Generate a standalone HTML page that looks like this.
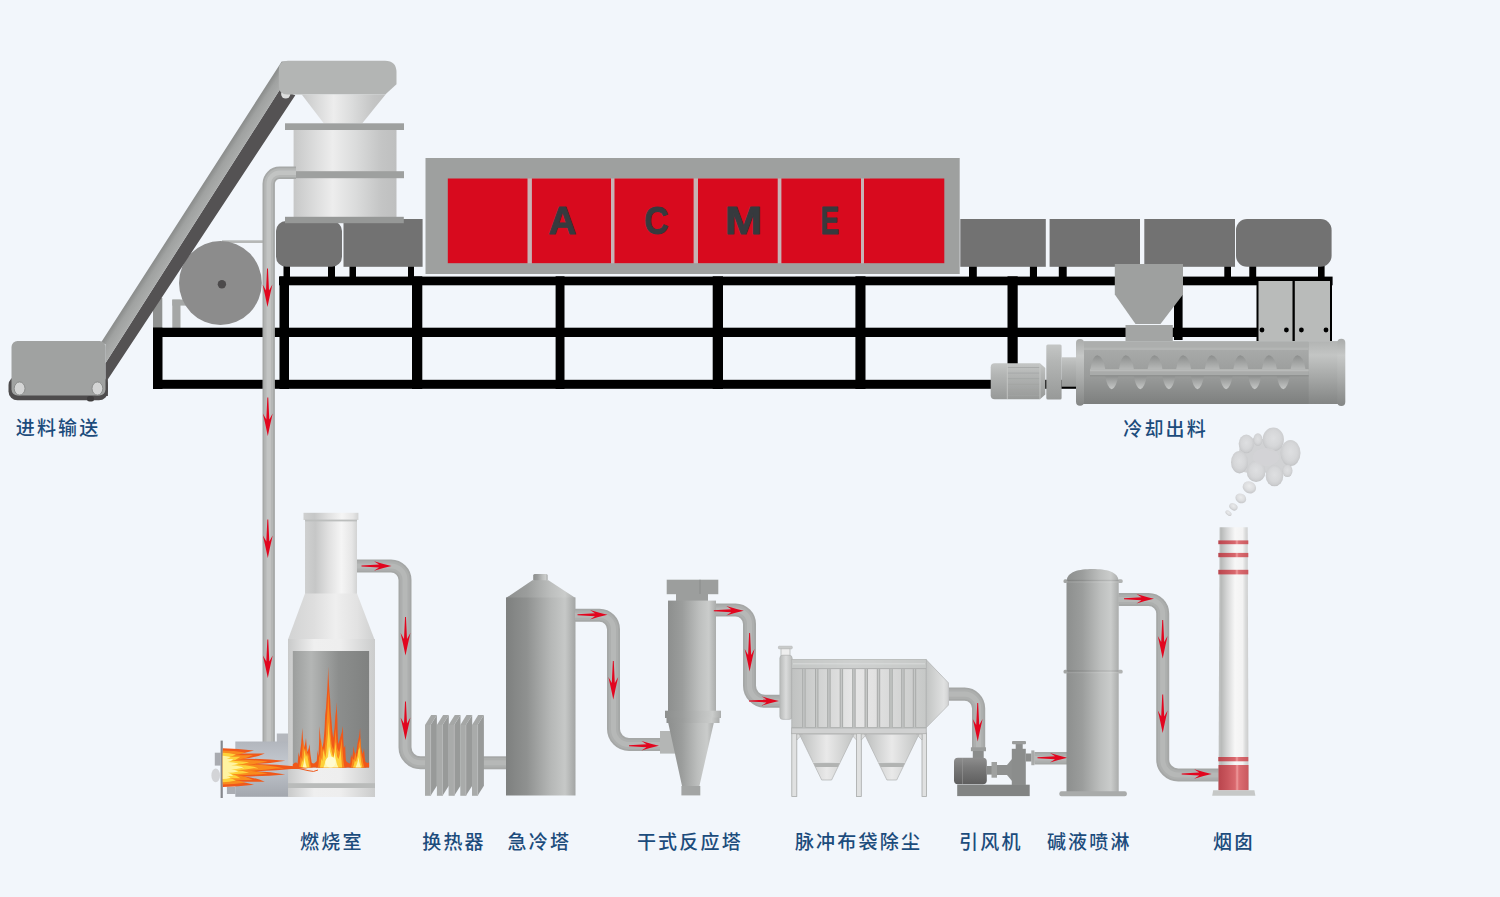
<!DOCTYPE html>
<html lang="zh-CN">
<head>
<meta charset="utf-8">
<title>ACME 工艺流程图</title>
<style>
html,body{margin:0;padding:0;}
body{width:1500px;height:897px;overflow:hidden;background:#f2f6fb;position:relative;font-family:"Liberation Sans","Noto Sans CJK SC",sans-serif;}
#stage{position:absolute;left:0;top:0;width:1500px;height:897px;background:#f2f6fb;}
svg{position:absolute;left:0;top:0;display:block;}
.lb{position:absolute;white-space:nowrap;font-size:19px;line-height:29px;height:29px;color:#1c4c7c;font-family:"Liberation Sans","Noto Sans CJK SC",sans-serif;font-weight:500;letter-spacing:2.2px;}
</style>
</head>
<body>
<div id="stage">
<svg width="1500" height="897" viewBox="0 0 1500 897">

<defs>
<linearGradient id="gLight" x1="0" x2="1" y1="0" y2="0">
 <stop offset="0" stop-color="#c6c7c7"/><stop offset="0.08" stop-color="#cfd0d0"/><stop offset="0.38" stop-color="#ededed"/><stop offset="0.6" stop-color="#dbdcdc"/><stop offset="0.85" stop-color="#c4c5c5"/><stop offset="1" stop-color="#bebfbf"/>
</linearGradient>
<linearGradient id="gWhite" x1="0" x2="1" y1="0" y2="0">
 <stop offset="0" stop-color="#c9caca"/><stop offset="0.3" stop-color="#efefef"/><stop offset="0.6" stop-color="#eeeeee"/><stop offset="1" stop-color="#cbcccc"/>
</linearGradient>
<linearGradient id="gTower" x1="0" x2="1" y1="0" y2="0">
 <stop offset="0" stop-color="#7e807f"/><stop offset="0.3" stop-color="#8f9190"/><stop offset="0.65" stop-color="#b6b8b7"/><stop offset="0.85" stop-color="#c6c8c7"/><stop offset="1" stop-color="#a3a5a4"/>
</linearGradient>
<linearGradient id="gTower2" x1="0" x2="1" y1="0" y2="0">
 <stop offset="0" stop-color="#8d8f8e"/><stop offset="0.3" stop-color="#9b9d9c"/><stop offset="0.65" stop-color="#bdbfbe"/><stop offset="0.85" stop-color="#cacccb"/><stop offset="1" stop-color="#aaacab"/>
</linearGradient>
<linearGradient id="gWin" x1="0" x2="1" y1="0" y2="0">
 <stop offset="0" stop-color="#9c9e9d"/><stop offset="0.24" stop-color="#b4b6b5"/><stop offset="0.6" stop-color="#8c8e8d"/><stop offset="1" stop-color="#7f8180"/>
</linearGradient>
<linearGradient id="gBarrel" x1="0" x2="0" y1="0" y2="1">
 <stop offset="0" stop-color="#aeb0af"/><stop offset="0.15" stop-color="#a7a9a8"/><stop offset="0.55" stop-color="#9a9c9b"/><stop offset="1" stop-color="#7d7f7e"/>
</linearGradient>
<linearGradient id="gMotor" x1="0" x2="0" y1="0" y2="1">
 <stop offset="0" stop-color="#c4c6c5"/><stop offset="0.3" stop-color="#b4b6b5"/><stop offset="1" stop-color="#979998"/>
</linearGradient>
<linearGradient id="gFan" x1="0" x2="0" y1="0" y2="1">
 <stop offset="0" stop-color="#8e8e8e"/><stop offset="0.35" stop-color="#7a7a7a"/><stop offset="1" stop-color="#5e5e5e"/>
</linearGradient>
<linearGradient id="gChim" x1="0" x2="1" y1="0" y2="0">
 <stop offset="0" stop-color="#c2c4c3"/><stop offset="0.1" stop-color="#b9bbba"/><stop offset="0.28" stop-color="#d4d5d5"/><stop offset="0.55" stop-color="#f7f7f7"/><stop offset="0.8" stop-color="#f3f3f3"/><stop offset="0.9" stop-color="#dadbdb"/><stop offset="1" stop-color="#cbcccc"/>
</linearGradient>
<linearGradient id="gRed" x1="0" x2="1" y1="0" y2="0">
 <stop offset="0" stop-color="#b9454d"/><stop offset="0.3" stop-color="#c9565d"/><stop offset="0.56" stop-color="#d9686e"/><stop offset="0.62" stop-color="#ee9a9c"/><stop offset="0.68" stop-color="#dc6e73"/><stop offset="1" stop-color="#c9585e"/>
</linearGradient>
<linearGradient id="gBurner" x1="0" x2="0" y1="0" y2="1">
 <stop offset="0" stop-color="#b2b6bd"/><stop offset="0.4" stop-color="#c3c8cf"/><stop offset="1" stop-color="#a3a7ae"/>
</linearGradient>
<linearGradient id="gBag" x1="0" x2="1" y1="0" y2="0">
 <stop offset="0" stop-color="#c3c5c4"/><stop offset="0.5" stop-color="#e3e4e4"/><stop offset="1" stop-color="#cfd0d0"/>
</linearGradient>
<linearGradient id="gChimney" x1="0" x2="1" y1="0" y2="0">
 <stop offset="0" stop-color="#cfd0d0"/><stop offset="0.2" stop-color="#c6c7c7"/><stop offset="0.45" stop-color="#e0e0e0"/><stop offset="0.7" stop-color="#f5f5f5"/><stop offset="0.9" stop-color="#e6e6e6"/><stop offset="1" stop-color="#d2d3d3"/>
</linearGradient>
<linearGradient id="gCone" x1="0" x2="1" y1="0" y2="0">
 <stop offset="0" stop-color="#d2d3d3"/><stop offset="0.3" stop-color="#dedede"/><stop offset="0.55" stop-color="#efefef"/><stop offset="0.8" stop-color="#e2e2e2"/><stop offset="1" stop-color="#cfd0d0"/>
</linearGradient>
<linearGradient id="gHop" x1="0" x2="1" y1="0" y2="0">
 <stop offset="0" stop-color="#bdbfbe"/><stop offset="0.5" stop-color="#e9e9e9"/><stop offset="1" stop-color="#c2c4c3"/>
</linearGradient>
<linearGradient id="gInlet" x1="0" x2="1" y1="0" y2="0">
 <stop offset="0" stop-color="#b7b9b8"/><stop offset="0.5" stop-color="#dadbdb"/><stop offset="1" stop-color="#babcbb"/>
</linearGradient>
<linearGradient id="gBox" x1="0" x2="1" y1="0" y2="0">
 <stop offset="0" stop-color="#c0c2c1"/><stop offset="0.45" stop-color="#e6e6e6"/><stop offset="0.6" stop-color="#e2e2e2"/><stop offset="1" stop-color="#c6c8c7"/>
</linearGradient>
<linearGradient id="gTaper" x1="0" x2="1" y1="0" y2="0">
 <stop offset="0" stop-color="#c2c4c3"/><stop offset="0.8" stop-color="#e0e1e1"/><stop offset="1" stop-color="#d2d3d3"/>
</linearGradient>
<linearGradient id="gStrip" gradientUnits="userSpaceOnUse" x1="200.5" y1="190" x2="211.4" y2="197">
 <stop offset="0" stop-color="#8e908f"/><stop offset="0.35" stop-color="#a0a2a1"/><stop offset="1" stop-color="#abadac"/>
</linearGradient>
<linearGradient id="gCap" x1="0" x2="0" y1="0" y2="1">
 <stop offset="0" stop-color="#a9abaa"/><stop offset="0.25" stop-color="#c6c8c7"/><stop offset="0.6" stop-color="#a9abaa"/><stop offset="1" stop-color="#848685"/>
</linearGradient>
<linearGradient id="gEnd" x1="0" x2="0" y1="0" y2="1">
 <stop offset="0" stop-color="#b2b4b3"/><stop offset="0.22" stop-color="#c3c5c4"/><stop offset="0.6" stop-color="#a4a6a5"/><stop offset="1" stop-color="#838584"/>
</linearGradient>
<linearGradient id="gFlU" x1="0" x2="0" y1="0" y2="1">
 <stop offset="0" stop-color="#8c8e8d"/><stop offset="1" stop-color="#b7b9b8"/>
</linearGradient>
<linearGradient id="gFlL" x1="0" x2="0" y1="0" y2="1">
 <stop offset="0" stop-color="#8f9190"/><stop offset="1" stop-color="#c6c8c7"/>
</linearGradient>
<radialGradient id="gPuff" cx="0.5" cy="0.45" r="0.55">
 <stop offset="0" stop-color="#dedfe1"/><stop offset="0.6" stop-color="#d6d7d9"/><stop offset="0.85" stop-color="#cdced0"/><stop offset="1" stop-color="#c1c2c4"/>
</radialGradient>
<radialGradient id="gPuff2" cx="0.45" cy="0.4" r="0.6">
 <stop offset="0" stop-color="#eaebec"/><stop offset="0.6" stop-color="#dcdddf"/><stop offset="1" stop-color="#c6c7c9"/>
</radialGradient>
<filter id="fSoft" x="-10%" y="-10%" width="120%" height="120%"><feGaussianBlur stdDeviation="0.7"/></filter>
<linearGradient id="gFlameV" x1="0" x2="0" y1="0" y2="1">
 <stop offset="0" stop-color="#ee4a10"/><stop offset="0.6" stop-color="#f7831c"/><stop offset="1" stop-color="#fbb030"/>
</linearGradient>
</defs>

<g id="drum">
<rect x="153.0" y="298.0" width="9.3" height="31.0" fill="#8f9190" />
<rect x="172.3" y="299.6" width="8.2" height="29.4" fill="#a5a7a6" />
<rect x="172.3" y="299.6" width="19.7" height="6.0" fill="#a5a7a6" />
<rect x="222.0" y="240.3" width="41.0" height="2.7" fill="#b6b8b7" />
<ellipse cx="220.4" cy="283" rx="41.4" ry="42" fill="#8c8c8c"/>
<circle cx="221.9" cy="284.2" r="4.2" fill="#4c4a4b"/>
</g>
<g id="frame" fill="#000">
<rect x="279.0" y="276.6" width="1053.6" height="8.7" fill="#000" />
<rect x="153.0" y="327.7" width="1104.0" height="9.3" fill="#000" />
<rect x="153.0" y="379.8" width="925.0" height="9.0" fill="#000" />
<rect x="153.0" y="327.7" width="9.5" height="61.3" fill="#000" />
<rect x="279.5" y="276.3" width="9.5" height="112.7" fill="#000" />
<rect x="412.0" y="276.3" width="10.3" height="112.7" fill="#000" />
<rect x="555.6" y="276.3" width="8.9" height="112.7" fill="#000" />
<rect x="712.7" y="276.3" width="10.3" height="112.7" fill="#000" />
<rect x="855.4" y="276.3" width="10.1" height="112.7" fill="#000" />
<rect x="1007.5" y="276.3" width="10.2" height="93.7" fill="#000" />
<rect x="1174.0" y="280.0" width="8.6" height="60.0" fill="#000" />
<rect x="283.5" y="264.0" width="6.5" height="14.0" fill="#000" />
<rect x="328.0" y="264.0" width="7.0" height="14.0" fill="#000" />
<rect x="349.5" y="264.0" width="6.5" height="14.0" fill="#000" />
<rect x="408.0" y="264.0" width="6.0" height="14.0" fill="#000" />
<rect x="969.0" y="264.0" width="7.8" height="14.0" fill="#000" />
<rect x="1029.9" y="264.0" width="7.1" height="14.0" fill="#000" />
<rect x="1058.8" y="264.0" width="7.9" height="14.0" fill="#000" />
<rect x="1224.3" y="264.0" width="6.7" height="14.0" fill="#000" />
<rect x="1249.3" y="264.0" width="6.9" height="14.0" fill="#000" />
<rect x="1318.0" y="264.0" width="6.6" height="14.0" fill="#000" />
</g>
<g id="conveyor">
<polygon points="280.2,89.1 295.3,95.2 107.9,379.2 107.9,396 105.4,396 105.4,363.2" fill="#545253"/>
<polygon points="281.7,61.5 297.8,61.5 105.4,363.2 105.4,344 100.4,343.6" fill="url(#gStrip)"/>
<rect x="8.5" y="376" width="99.4" height="24.3" rx="9" fill="#4e4c4d"/>
<rect x="87" y="396" width="7" height="5.5" rx="2.5" fill="#3f3d3e"/>
<rect x="11.5" y="341" width="94" height="54.5" rx="6" fill="#a0a2a1"/>
<ellipse cx="19.6" cy="388.5" rx="5.4" ry="6.6" fill="#d4d5d5" stroke="#8b8d8c" stroke-width="1"/>
<ellipse cx="97.4" cy="388.5" rx="5.4" ry="6.6" fill="#d4d5d5" stroke="#8b8d8c" stroke-width="1"/>
<circle cx="285.7" cy="94" r="4.6" fill="#dcdddd"/>
<path d="M288,60.7 H385 Q396.5,60.7 396.5,72.5 V84.2 L385.3,94.6 H287.5 Q278.8,94.6 278.8,86 V69.7 Q278.8,60.7 288,60.7 Z" fill="#b3b5b4"/>
</g>
<g id="darkboxes" fill="#727272">
<rect x="276" y="221" width="66" height="45.8" rx="10"/>
<rect x="343.5" y="219.0" width="79.1" height="47.8" fill="#727272" />
<rect x="960.3" y="219.0" width="85.5" height="47.8" fill="#727272" />
<rect x="1049.6" y="219.0" width="90.4" height="47.8" fill="#727272" />
<rect x="1144.3" y="219.0" width="90.7" height="47.8" fill="#727272" />
<rect x="1236" y="219" width="95.6" height="47.8" rx="11"/>
</g>
<g id="feeder">
<polygon points="301.7,94.4 385.6,94.4 362.3,123.2 323.7,123.2" fill="url(#gLight)"/>
<rect x="293.6" y="129.0" width="102.9" height="89.0" fill="url(#gLight)" />
<rect x="285.0" y="123.3" width="119.0" height="6.7" fill="#9ea09f" />
<rect x="295.8" y="171.2" width="108.2" height="7.0" fill="#9ea09f" />
<rect x="285.0" y="216.8" width="118.8" height="6.4" fill="#969897" />
</g>
<g id="pipe0">
<path d="M296,172.8 H279.7 A11,11 0 0 0 268.7,183.8 V742" fill="none" stroke="#a6a8a7" stroke-width="12.4"/><path d="M296,172.8 H279.7 A11,11 0 0 0 268.7,183.8 V742" fill="none" stroke="#b5b7b6" stroke-width="8.9"/><path d="M296,172.8 H279.7 A11,11 0 0 0 268.7,183.8 V742" fill="none" stroke="#c2c4c3" stroke-width="4.4"/>
</g>
<g id="oven">
<rect x="425.5" y="158.0" width="534.2" height="116.0" fill="#9ea09f" />
<rect x="520.0" y="178.5" width="350.0" height="84.7" fill="#c7b3b5" />
<rect x="447.8" y="178.5" width="79.7" height="84.7" fill="#d80a1e" />
<rect x="531.9" y="178.5" width="79.1" height="84.7" fill="#d80a1e" />
<rect x="614.5" y="178.5" width="79.1" height="84.7" fill="#d80a1e" />
<rect x="698.0" y="178.5" width="79.7" height="84.7" fill="#d80a1e" />
<rect x="781.4" y="178.5" width="79.6" height="84.7" fill="#d80a1e" />
<rect x="864.0" y="178.5" width="80.3" height="84.7" fill="#d80a1e" />
<text transform="translate(562.4 233.6) scale(1.0 1)" x="0" y="0" text-anchor="middle" font-family="'Liberation Sans', sans-serif" font-weight="bold" font-size="38.5" fill="#363a3e" stroke="#363a3e" stroke-width="1" stroke-linejoin="round">A</text>
<text transform="translate(656.4 233.6) scale(0.875 1)" x="0" y="0" text-anchor="middle" font-family="'Liberation Sans', sans-serif" font-weight="bold" font-size="38.5" fill="#363a3e" stroke="#363a3e" stroke-width="1" stroke-linejoin="round">C</text>
<text transform="translate(743.4 233.6) scale(1.165 1)" x="0" y="0" text-anchor="middle" font-family="'Liberation Sans', sans-serif" font-weight="bold" font-size="38.5" fill="#363a3e" stroke="#363a3e" stroke-width="1" stroke-linejoin="round">M</text>
<text transform="translate(829.8 233.6) scale(0.725 1)" x="0" y="0" text-anchor="middle" font-family="'Liberation Sans', sans-serif" font-weight="bold" font-size="38.5" fill="#363a3e" stroke="#363a3e" stroke-width="1" stroke-linejoin="round">E</text>
</g>
<g id="cabinet">
<rect x="1256.5" y="279.0" width="75.5" height="62.0" fill="#000" />
<rect x="1258.5" y="281.0" width="34.0" height="60.0" fill="#b9bbba" />
<rect x="1294.8" y="281.0" width="35.2" height="60.0" fill="#b9bbba" />
<circle cx="1262" cy="330" r="2.4" fill="#000"/>
<circle cx="1286.4" cy="330" r="2.4" fill="#000"/>
<circle cx="1301.4" cy="330" r="2.4" fill="#000"/>
<circle cx="1326" cy="330" r="2.4" fill="#000"/>
</g>
<g id="hopper2" fill="#9ea09f">
<polygon points="1114.8,264 1183,264 1183,294.5 1160.5,324 1135.5,324 1114.8,294.5"/>
<rect x="1125.5" y="325.0" width="47.3" height="16.0" fill="#a3a5a4" />
</g>
<g id="cooler">
<path d="M994.7,363.3 H1040 L1045.3,368 V394.6 L1040,399.3 H994.7 Q990.7,399.3 990.7,395.3 V367.3 Q990.7,363.3 994.7,363.3 Z" fill="url(#gMotor)"/>
<line x1="1007.5" x2="1039.5" y1="367.5" y2="367.5" stroke="#a2a4a3" stroke-width="0.9" opacity="0.8"/>
<line x1="1007.5" x2="1039.5" y1="373.1" y2="373.1" stroke="#a2a4a3" stroke-width="0.9" opacity="0.8"/>
<line x1="1007.5" x2="1039.5" y1="378.7" y2="378.7" stroke="#a2a4a3" stroke-width="0.9" opacity="0.8"/>
<line x1="1007.5" x2="1039.5" y1="384.3" y2="384.3" stroke="#a2a4a3" stroke-width="0.9" opacity="0.8"/>
<line x1="1007.5" x2="1039.5" y1="389.9" y2="389.9" stroke="#a2a4a3" stroke-width="0.9" opacity="0.8"/>
<line x1="1007.5" x2="1039.5" y1="395.5" y2="395.5" stroke="#a2a4a3" stroke-width="0.9" opacity="0.8"/>
<line x1="1007.3" x2="1007.3" y1="364" y2="399" stroke="#c9cbca" stroke-width="0.8"/>
<line x1="1040" x2="1040" y1="364" y2="399" stroke="#c9cbca" stroke-width="0.8"/>
<rect x="1046.3" y="344.4" width="15.3" height="55.2" rx="1.5" fill="url(#gMotor)"/>
<rect x="1061.6" y="357.3" width="15" height="29.4" fill="url(#gMotor)"/>
<rect x="1080.0" y="341.3" width="260.0" height="62.7" fill="url(#gBarrel)" />
<rect x="1076" y="339" width="8" height="66.7" rx="4" fill="url(#gCap)"/>
<rect x="1308.7" y="341.3" width="31.3" height="62.7" fill="url(#gEnd)" />
<rect x="1337.3" y="338.7" width="8" height="67.3" rx="4" fill="url(#gCap)"/>
<rect x="1084.0" y="347.3" width="224.7" height="2.7" fill="#b3b5b4" />
<rect x="1084.0" y="341.3" width="224.7" height="6.0" fill="#acaead" />
<path d="M1090.3,369.5 Q1092.8,355 1097.3,355.3 Q1103.3,356 1105.3,369.5 Z" fill="url(#gFlU)"/>
<path d="M1118.9,369.5 Q1121.4,355 1125.9,355.3 Q1131.9,356 1133.9,369.5 Z" fill="url(#gFlU)"/>
<path d="M1147.5,369.5 Q1150.0,355 1154.5,355.3 Q1160.5,356 1162.5,369.5 Z" fill="url(#gFlU)"/>
<path d="M1176.1,369.5 Q1178.6,355 1183.1,355.3 Q1189.1,356 1191.1,369.5 Z" fill="url(#gFlU)"/>
<path d="M1204.7,369.5 Q1207.2,355 1211.7,355.3 Q1217.7,356 1219.7,369.5 Z" fill="url(#gFlU)"/>
<path d="M1233.3,369.5 Q1235.8,355 1240.3,355.3 Q1246.3,356 1248.3,369.5 Z" fill="url(#gFlU)"/>
<path d="M1261.9,369.5 Q1264.4,355 1268.9,355.3 Q1274.9,356 1276.9,369.5 Z" fill="url(#gFlU)"/>
<path d="M1290.5,369.5 Q1293.0,355 1297.5,355.3 Q1303.5,356 1305.5,369.5 Z" fill="url(#gFlU)"/>
<path d="M1105.2,376 Q1107.2,388 1111.7,389.3 Q1116.2,388 1118.2,376 Z" fill="url(#gFlL)"/>
<path d="M1133.8,376 Q1135.8,388 1140.3,389.3 Q1144.8,388 1146.8,376 Z" fill="url(#gFlL)"/>
<path d="M1162.4,376 Q1164.4,388 1168.9,389.3 Q1173.4,388 1175.4,376 Z" fill="url(#gFlL)"/>
<path d="M1191.0,376 Q1193.0,388 1197.5,389.3 Q1202.0,388 1204.0,376 Z" fill="url(#gFlL)"/>
<path d="M1219.6,376 Q1221.6,388 1226.1,389.3 Q1230.6,388 1232.6,376 Z" fill="url(#gFlL)"/>
<path d="M1248.2,376 Q1250.2,388 1254.7,389.3 Q1259.2,388 1261.2,376 Z" fill="url(#gFlL)"/>
<path d="M1276.8,376 Q1278.8,388 1283.3,389.3 Q1287.8,388 1289.8,376 Z" fill="url(#gFlL)"/>
<rect x="1090.0" y="369.3" width="218.7" height="6.7" fill="#a9abaa" />
<rect x="1090.0" y="369.3" width="218.7" height="2.0" fill="#b9bbba" />
<rect x="1090.0" y="375.0" width="218.7" height="1.5" fill="#8f9190" />
</g>
<path transform="translate(267.5 307)" d="M0,0 Q-2.2,-11 -4.9,-22.5 L-1.5,-16.5 L-0.45,-38.5 L0.45,-38.5 L1.5,-16.5 L4.9,-22.5 Q2.2,-11 0,0 Z" fill="#e2061f"/>
<path transform="translate(267.8 436)" d="M0,0 Q-2.2,-11 -4.9,-22.5 L-1.5,-16.5 L-0.45,-38.5 L0.45,-38.5 L1.5,-16.5 L4.9,-22.5 Q2.2,-11 0,0 Z" fill="#e2061f"/>
<path transform="translate(267.8 558)" d="M0,0 Q-2.2,-11 -4.9,-22.5 L-1.5,-16.5 L-0.45,-38.5 L0.45,-38.5 L1.5,-16.5 L4.9,-22.5 Q2.2,-11 0,0 Z" fill="#e2061f"/>
<path transform="translate(267.8 678)" d="M0,0 Q-2.2,-11 -4.9,-22.5 L-1.5,-16.5 L-0.45,-38.5 L0.45,-38.5 L1.5,-16.5 L4.9,-22.5 Q2.2,-11 0,0 Z" fill="#e2061f"/>
<g id="burner">
<rect x="276.8" y="733.5" width="11.7" height="8.5" fill="#b4b7bd" />
<rect x="220.6" y="740.6" width="2.2" height="57.4" fill="#85878c" />
<rect x="214.8" y="752.7" width="6.0" height="12.9" fill="#a9abb0" />
<ellipse cx="215.7" cy="775.4" rx="4.3" ry="6.8" fill="#d3d4d7"/>
<rect x="226.9" y="786.6" width="8.6" height="7.4" fill="#aaadb3" />
<rect x="235.3" y="741.5" width="53.2" height="55.3" fill="url(#gBurner)" />
</g>
<g id="furnace">
<rect x="305.0" y="520.0" width="52.0" height="74.5" fill="url(#gChimney)" />
<rect x="303.5" y="512.8" width="54.9" height="7.2" fill="url(#gChimney)" />
<rect x="305.0" y="519.6" width="52.0" height="1.8" fill="#bcbebd" />
<polygon points="305,593.6 357,593.6 374.5,639.5 288,639.5" fill="url(#gCone)"/>
<rect x="288.0" y="639.0" width="87.0" height="158.0" fill="url(#gWhite)" />
<rect x="292.8" y="651.0" width="76.3" height="116.6" fill="url(#gWin)" />
<rect x="288.0" y="783.2" width="87.0" height="4.8" fill="#b9bbba" />
</g>
<g id="flames">
<path d="M292.8,767.6 V764.5 Q296,761 298,764 Q300,760 303,758 L306,760 Q310,763 314,763.5 Q317,762 319,758 L344,758 Q347,763 350,763.5 Q353,762 355,760 L364,760 Q366,764 369.1,762.5 V767.6 Z" fill="#f0581a"/>
<path d="M297,767.6 Q298.1,760.6 298.5,752 Q298.8,754.8 299.5,757 Q301.6,744.0 302.3,728 Q302.7,739.0 304,748 Q305.5,743.5 306,738 Q306.4,745.7 307.5,752 Q309.0,748.4 309.5,744 Q310.3,757.0 312.6,767.6 Z" fill="#f0581a"/>
<path d="M299,767.6 Q300.1,762.4 300.5,756 Q300.8,757.6 301.5,759 Q302.6,750.5 303,740 Q303.4,746.6 304.8,752 Q305.9,749.3 306.3,746 Q306.7,752.0 307.8,757 Q308.7,754.8 309,752 Q309.5,760.6 311,767.6 Z" fill="#f98b1e"/>
<path d="M300.5,767.6 Q301.6,763.7 302,759 Q302.2,760.6 303,762 Q304.1,755.7 304.5,748 Q304.9,753.0 306,757 Q306.9,755.2 307.2,753 Q307.5,758.0 308.5,762 Q308.8,765.1 309.5,767.6 Z" fill="#fdd23a"/>
<path d="M302.5,767.6 Q304.1,762.8 304.6,757 Q305.2,762.8 306.8,767.6 Z" fill="#fff7b0"/>
<path d="M316,767.6 Q317.1,759.7 317.5,750 Q317.8,753.3 318.5,756 Q319.2,742.5 319.5,726 Q320.1,738.1 322,748 Q323.1,745.3 323.5,742 Q324.8,729.9 325.2,715 Q326.2,708.2 326.5,700 Q327.8,685.0 328.2,666.6 Q328.7,685.0 330.2,700 Q330.6,712.1 331.6,722 Q332.0,730.8 333.2,738 Q334.8,728.1 335.4,716 Q336.4,709.7 336.8,702 Q336.9,711.9 337.4,720 Q337.6,733.2 338.2,744 Q339.6,741.3 340,738 Q342.2,732.6 342.9,726 Q343.1,738.1 343.8,748 Q344.9,746.6 345.2,745 Q345.5,757.4 346.5,767.6 Z" fill="#f0581a"/>
<path d="M318,767.6 Q319.0,761.5 319.3,754 Q319.5,756.2 320.2,758 Q320.8,749.0 321,738 Q321.6,746.8 323.4,754 Q324.6,750.4 325,746 Q326.2,735.2 326.6,722 Q327.9,707.6 328.3,690 Q328.7,707.6 330,722 Q330.4,734.1 331.6,744 Q332.1,747.3 333.6,750 Q335.1,740.1 335.6,728 Q336.0,739.0 337.2,748 Q337.7,750.2 339.2,752 Q341.1,745.7 341.8,738 Q342.1,747.9 343,756 Q343.4,762.4 344.5,767.6 Z" fill="#f98b1e"/>
<path d="M320,767.6 Q321.0,763.3 321.3,758 Q321.6,759.6 322.3,761 Q323.1,755.1 323.4,748 Q323.9,753.5 325.4,758 Q326.6,751.7 327,744 Q328.2,734.1 328.6,722 Q329.0,733.0 330.2,742 Q330.6,747.5 331.8,752 Q332.2,754.8 333.6,757 Q334.9,750.2 335.4,742 Q335.8,749.7 337,756 Q337.4,757.6 338.6,759 Q340.2,754.0 340.8,748 Q341.1,758.8 342.2,767.6 Z" fill="#fdd23a"/>
<path d="M323.5,767.6 Q325.0,764.2 325.5,760 Q325.9,761.1 327,762 Q328.5,754.8 329,746 Q329.6,751.5 331.4,756 Q331.8,758.2 333,760 Q334.2,756.4 334.6,752 Q335.1,757.5 336.4,762 Q336.9,765.1 338.5,767.6 Z" fill="#fff7b0"/>
<ellipse cx="330.6" cy="762" rx="5" ry="5.6" fill="#fffbd0"/>
<path d="M349.5,767.6 Q350.6,761.5 351,754 Q351.3,756.2 352.2,758 Q353.2,752.6 353.5,746 Q354.0,751.0 355.4,755 Q356.9,750.0 357.4,744 Q359.4,736.8 360.1,728 Q360.3,737.9 361,746 Q361.4,750.4 362.6,754 Q363.6,751.3 364,748 Q364.6,758.8 366.2,767.6 Z" fill="#f0581a"/>
<path d="M351,767.6 Q352.2,763.3 352.6,758 Q353.0,759.1 354,760 Q354.9,756.4 355.2,752 Q355.6,755.3 356.8,758 Q358.3,751.7 358.8,744 Q359.9,741.3 360.3,738 Q360.5,745.7 361.2,752 Q361.6,755.9 362.6,759 Q363.1,763.7 364.5,767.6 Z" fill="#f98b1e"/>
<path d="M353,767.6 Q354.4,764.2 354.8,760 Q355.1,761.1 356,762 Q357.8,756.6 358.4,750 Q359.4,748.6 359.8,747 Q360.1,753.6 360.8,759 Q361.2,763.7 362.5,767.6 Z" fill="#fdd23a"/>
<path d="M355.5,767.6 Q357.8,762.8 358.6,757 Q359.2,762.8 361,767.6 Z" fill="#fff7b0"/>
<path d="M222.8,748.2 Q238.0,748.4 254.0,750.4 Q246.0,753.0 238.0,753.4 Q251.4,753.7 264.8,753.4 Q253.9,758.2 243.0,758.6 Q264.1,758.9 285.3,760.8 Q270.6,763.6 256.0,764.0 Q276.5,764.3 297.0,766.6 L308.0,768.4 L297.0,768.6 Q276.5,770.9 256.0,771.2 Q270.6,771.6 285.3,774.4 Q264.1,776.3 243.0,776.6 Q253.9,777.0 264.8,781.8 Q251.4,781.5 238.0,781.8 Q246.0,782.2 254.0,784.8 Q238.0,786.8 222.8,787.0 Z" fill="#f0581a"/>
<path d="M222.8,750.5 Q233.7,750.7 245.3,752.4 Q239.5,754.7 233.7,755.1 Q243.4,755.3 253.0,755.1 Q245.2,759.3 237.3,759.6 Q252.6,759.9 267.8,761.6 Q257.3,764.0 246.7,764.4 Q261.5,764.6 276.2,766.7 L284.1,768.4 L276.2,768.4 Q261.5,770.5 246.7,770.7 Q257.3,771.1 267.8,773.5 Q252.6,775.2 237.3,775.5 Q245.2,775.8 253.0,780.0 Q243.4,779.8 233.7,780.0 Q239.5,780.4 245.3,782.7 Q233.7,784.4 222.8,784.6 Z" fill="#f98b1e"/>
<path d="M222.8,752.8 Q229.2,752.9 235.9,754.4 Q232.5,756.4 229.2,756.7 Q234.8,756.9 240.4,756.7 Q235.9,760.4 231.3,760.7 Q240.2,760.9 249.1,762.3 Q242.9,764.5 236.7,764.8 Q245.4,765.0 254.0,766.7 L258.6,768.4 L254.0,768.3 Q245.4,770.0 236.7,770.2 Q242.9,770.5 249.1,772.7 Q240.2,774.1 231.3,774.3 Q235.9,774.6 240.4,778.3 Q234.8,778.1 229.2,778.3 Q232.5,778.6 235.9,780.6 Q229.2,782.1 222.8,782.2 Z" fill="#fdd23a"/>
<path d="M222.8,755.8 Q226.6,755.9 230.6,757.1 Q228.6,758.7 226.6,758.9 Q230.0,759.1 233.3,758.9 Q230.6,761.8 227.9,762.0 Q233.1,762.2 238.4,763.4 Q234.8,765.0 231.1,765.3 Q236.2,765.5 241.4,766.8 L244.1,768.4 L241.4,768.0 Q236.2,769.4 231.1,769.6 Q234.8,769.8 238.4,771.5 Q233.1,772.7 227.9,772.8 Q230.6,773.1 233.3,776.0 Q230.0,775.8 226.6,776.0 Q228.6,776.2 230.6,777.8 Q226.6,779.0 222.8,779.1 Z" fill="#fff3a0"/>
<path d="M288,768.4 Q300,767.6 308,770.6 Q314,772.6 318,770" fill="none" stroke="#f0581a" stroke-width="1"/>
</g>
<g id="pipe1">
<path d="M357,566 L391.0,566.0 A14,14 0 0 1 405.0,580.0 L405.0,747.3 A15.5,15.5 0 0 0 420.5,762.8 L427,762.8" fill="none" stroke="#a5a7a6" stroke-width="13"/><path d="M357,566 L391.0,566.0 A14,14 0 0 1 405.0,580.0 L405.0,747.3 A15.5,15.5 0 0 0 420.5,762.8 L427,762.8" fill="none" stroke="#adafae" stroke-width="9.5"/><path d="M357,566 L391.0,566.0 A14,14 0 0 1 405.0,580.0 L405.0,747.3 A15.5,15.5 0 0 0 420.5,762.8 L427,762.8" fill="none" stroke="#b6b8b7" stroke-width="5"/>
<path d="M483,762.8 H507" fill="none" stroke="#a5a7a6" stroke-width="13"/><path d="M483,762.8 H507" fill="none" stroke="#adafae" stroke-width="9.5"/><path d="M483,762.8 H507" fill="none" stroke="#b6b8b7" stroke-width="5"/>
<path transform="translate(391.5 566)" d="M0,0 Q-9,-2 -17.5,-4.7 L-12.5,-1.5 L-30,-0.45 L-30,0.45 L-12.5,1.5 L-17.5,4.7 Q-9,2 0,0 Z" fill="#e2061f"/>
<path transform="translate(405.5 655.5)" d="M0,0 Q-2.2,-11 -4.9,-22.5 L-1.5,-16.5 L-0.45,-38.5 L0.45,-38.5 L1.5,-16.5 L4.9,-22.5 Q2.2,-11 0,0 Z" fill="#e2061f"/>
<path transform="translate(405.5 740)" d="M0,0 Q-2.2,-11 -4.9,-22.5 L-1.5,-16.5 L-0.45,-38.5 L0.45,-38.5 L1.5,-16.5 L4.9,-22.5 Q2.2,-11 0,0 Z" fill="#e2061f"/>
</g>
<g id="hx">
<polygon points="430.6,725 436.9,715 436.9,785.8 430.6,795.8" fill="#989a99"/>
<polygon points="425,725 431.2,715 436.9,715 430.6,725" fill="#a5a7a6"/>
<rect x="425.0" y="725.0" width="5.6" height="70.8" fill="#a9abaa" />
<line x1="430.6" x2="430.6" y1="725" y2="795.8" stroke="#b6b8b7" stroke-width="0.8"/>
<polygon points="442.5,725 448.79999999999995,715 448.79999999999995,785.8 442.5,795.8" fill="#989a99"/>
<polygon points="436.9,725 443.09999999999997,715 448.79999999999995,715 442.5,725" fill="#a5a7a6"/>
<rect x="436.9" y="725.0" width="5.6" height="70.8" fill="#a9abaa" />
<line x1="442.5" x2="442.5" y1="725" y2="795.8" stroke="#b6b8b7" stroke-width="0.8"/>
<polygon points="454.20000000000005,725 460.5,715 460.5,785.8 454.20000000000005,795.8" fill="#989a99"/>
<polygon points="448.6,725 454.8,715 460.5,715 454.20000000000005,725" fill="#a5a7a6"/>
<rect x="448.6" y="725.0" width="5.6" height="70.8" fill="#a9abaa" />
<line x1="454.20000000000005" x2="454.20000000000005" y1="725" y2="795.8" stroke="#b6b8b7" stroke-width="0.8"/>
<polygon points="465.90000000000003,725 472.2,715 472.2,785.8 465.90000000000003,795.8" fill="#989a99"/>
<polygon points="460.3,725 466.5,715 472.2,715 465.90000000000003,725" fill="#a5a7a6"/>
<rect x="460.3" y="725.0" width="5.6" height="70.8" fill="#a9abaa" />
<line x1="465.90000000000003" x2="465.90000000000003" y1="725" y2="795.8" stroke="#b6b8b7" stroke-width="0.8"/>
<polygon points="477.6,725 483.9,715 483.9,785.8 477.6,795.8" fill="#989a99"/>
<polygon points="472,725 478.2,715 483.9,715 477.6,725" fill="#a5a7a6"/>
<rect x="472.0" y="725.0" width="5.6" height="70.8" fill="#a9abaa" />
<line x1="477.6" x2="477.6" y1="725" y2="795.8" stroke="#b6b8b7" stroke-width="0.8"/>
</g>
<g id="quench">
<rect x="533.2" y="574" width="14.5" height="7" rx="1.5" fill="url(#gTower2)"/>
<polygon points="506,598 532.4,580.3 548.4,580.3 575.5,598" fill="url(#gTower2)"/>
<rect x="506.0" y="597.5" width="69.5" height="198.0" fill="url(#gTower)" />
</g>
<g id="pipe2">
<path d="M575,615.2 L599.5,615.2 A14,14 0 0 1 613.5,629.2 L613.5,729.0 A15.5,15.5 0 0 0 629.0,744.5 L662,744.5" fill="none" stroke="#a5a7a6" stroke-width="13"/><path d="M575,615.2 L599.5,615.2 A14,14 0 0 1 613.5,629.2 L613.5,729.0 A15.5,15.5 0 0 0 629.0,744.5 L662,744.5" fill="none" stroke="#adafae" stroke-width="9.5"/><path d="M575,615.2 L599.5,615.2 A14,14 0 0 1 613.5,629.2 L613.5,729.0 A15.5,15.5 0 0 0 629.0,744.5 L662,744.5" fill="none" stroke="#b6b8b7" stroke-width="5"/>
<path transform="translate(607.5 614.8)" d="M0,0 Q-9,-2 -17.5,-4.7 L-12.5,-1.5 L-30,-0.45 L-30,0.45 L-12.5,1.5 L-17.5,4.7 Q-9,2 0,0 Z" fill="#e2061f"/>
<path transform="translate(613.3 699.4)" d="M0,0 Q-2.2,-11 -4.9,-22.5 L-1.5,-16.5 L-0.45,-38.5 L0.45,-38.5 L1.5,-16.5 L4.9,-22.5 Q2.2,-11 0,0 Z" fill="#e2061f"/>
<path transform="translate(659 745.8)" d="M0,0 Q-9,-2 -17.5,-4.7 L-12.5,-1.5 L-30,-0.45 L-30,0.45 L-12.5,1.5 L-17.5,4.7 Q-9,2 0,0 Z" fill="#e2061f"/>
</g>
<g id="cyclone">
<rect x="660.0" y="731.0" width="17.0" height="22.6" fill="#b4b6b5" />
<rect x="666.7" y="579.7" width="51.6" height="14.5" fill="#9c9e9d" />
<rect x="699.5" y="579.7" width="1.0" height="14.5" fill="#8a8c8b" />
<rect x="676.0" y="594.0" width="32.0" height="7.0" fill="#9c9e9d" />
<rect x="668.0" y="600.6" width="48.0" height="110.4" fill="url(#gTower2)" />
<polygon points="668,722 714,722 699.4,786 682,786" fill="url(#gTower2)"/>
<rect x="665.0" y="710.7" width="56.0" height="7.3" fill="url(#gTower2)" />
<rect x="666.5" y="717.5" width="53.0" height="5.5" fill="url(#gTower2)" />
<rect x="681.4" y="786.0" width="18.9" height="9.4" fill="#a3a5a4" />
</g>
<g id="pipe3">
<path d="M716,610 L735.5,610.0 A14,14 0 0 1 749.5,624.0 L749.5,685.8 A15.5,15.5 0 0 0 765.0,701.3 L782,701.3" fill="none" stroke="#a5a7a6" stroke-width="13"/><path d="M716,610 L735.5,610.0 A14,14 0 0 1 749.5,624.0 L749.5,685.8 A15.5,15.5 0 0 0 765.0,701.3 L782,701.3" fill="none" stroke="#adafae" stroke-width="9.5"/><path d="M716,610 L735.5,610.0 A14,14 0 0 1 749.5,624.0 L749.5,685.8 A15.5,15.5 0 0 0 765.0,701.3 L782,701.3" fill="none" stroke="#b6b8b7" stroke-width="5"/>
<path transform="translate(743.8 610.7)" d="M0,0 Q-9,-2 -17.5,-4.7 L-12.5,-1.5 L-30,-0.45 L-30,0.45 L-12.5,1.5 L-17.5,4.7 Q-9,2 0,0 Z" fill="#e2061f"/>
<path transform="translate(749.6 671.6)" d="M0,0 Q-2.2,-11 -4.9,-22.5 L-1.5,-16.5 L-0.45,-38.5 L0.45,-38.5 L1.5,-16.5 L4.9,-22.5 Q2.2,-11 0,0 Z" fill="#e2061f"/>
<path transform="translate(779 701)" d="M0,0 Q-9,-2 -17.5,-4.7 L-12.5,-1.5 L-30,-0.45 L-30,0.45 L-12.5,1.5 L-17.5,4.7 Q-9,2 0,0 Z" fill="#e2061f"/>
</g>
<g id="baghouse">
<rect x="791.8" y="733.0" width="5.0" height="63.4" fill="#e0e1e1" stroke="#a7a9a8" stroke-width="0.8"/>
<rect x="856.5" y="733.0" width="4.8" height="63.4" fill="#e0e1e1" stroke="#a7a9a8" stroke-width="0.8"/>
<rect x="922.0" y="733.0" width="4.6" height="63.4" fill="#e0e1e1" stroke="#a7a9a8" stroke-width="0.8"/>
<polygon points="796.8,734 802.5,734 796.8,740" fill="#dcdddd" stroke="#a9abaa" stroke-width="0.6"/>
<polygon points="856.5,734 850.8,734 856.5,740" fill="#dcdddd" stroke="#a9abaa" stroke-width="0.6"/>
<polygon points="861.3,734 867,734 861.3,740" fill="#dcdddd" stroke="#a9abaa" stroke-width="0.6"/>
<polygon points="922,734 916.3,734 922,740" fill="#dcdddd" stroke="#a9abaa" stroke-width="0.6"/>
<polygon points="799.4,734.2 853.9,734.2 831.6,780 821.7,780" fill="url(#gHop)" stroke="#b0b2b1" stroke-width="0.7"/>
<polygon points="813.4,763 839.9,763 837.9,767 815.4,767" fill="#b1b3b2"/>
<line x1="812.9" x2="840.4" y1="762.6" y2="762.6" stroke="#d9dada" stroke-width="0.8"/>
<polygon points="864.6,734.2 919,734.2 896.7,780 886.9,780" fill="url(#gHop)" stroke="#b0b2b1" stroke-width="0.7"/>
<polygon points="878.6,763 905.0,763 903.0,767 880.6,767" fill="#b1b3b2"/>
<line x1="878.1" x2="905.5" y1="762.6" y2="762.6" stroke="#d9dada" stroke-width="0.8"/>
<rect x="781.0" y="648.0" width="9.0" height="8.0" fill="#eeeeee" stroke="#adafae" stroke-width="0.7"/>
<rect x="778.4" y="646.2" width="13.9" height="2.6" rx="0.8" fill="#c9cbca" stroke="#a9abaa" stroke-width="0.5"/>
<rect x="779.8" y="655.2" width="12.4" height="64.2" rx="3" fill="url(#gInlet)" stroke="#adafae" stroke-width="0.6"/>
<polygon points="926.1,659.6 948.4,682.8 948.4,705.1 926.1,727.8" fill="url(#gTaper)" stroke="#b0b2b1" stroke-width="0.7"/>
<rect x="791.8" y="659.6" width="134.3" height="74.1" fill="url(#gBox)" stroke="#adafae" stroke-width="0.8"/>
<rect x="791.8" y="659.6" width="134.3" height="8.9" fill="#c6c8c7" opacity="0.75"/>
<rect x="793.0" y="663.2" width="132.0" height="1.2" fill="#dedfdf" opacity="0.7"/>
<rect x="791.8" y="727.8" width="134.3" height="5.9" fill="#d0d1d1" stroke="#adafae" stroke-width="0.6"/>
<rect x="791.8" y="668.1" width="134.3" height="1.0" fill="#adafae" />
<rect x="791.8" y="727.3" width="134.3" height="1.0" fill="#adafae" />
<rect x="802.4" y="669.0" width="3.0" height="58.5" fill="#c5c7c6" />
<rect x="802.2" y="669.0" width="1.0" height="58.5" fill="#a9abaa" />
<rect x="804.6" y="669.0" width="1.0" height="58.5" fill="#a9abaa" />
<rect x="815.2" y="669.0" width="3.0" height="58.5" fill="#c5c7c6" />
<rect x="815.0" y="669.0" width="1.0" height="58.5" fill="#a9abaa" />
<rect x="817.4" y="669.0" width="1.0" height="58.5" fill="#a9abaa" />
<rect x="827.4" y="669.0" width="3.0" height="58.5" fill="#c5c7c6" />
<rect x="827.2" y="669.0" width="1.0" height="58.5" fill="#a9abaa" />
<rect x="829.6" y="669.0" width="1.0" height="58.5" fill="#a9abaa" />
<rect x="839.9" y="669.0" width="3.0" height="58.5" fill="#c5c7c6" />
<rect x="839.7" y="669.0" width="1.0" height="58.5" fill="#a9abaa" />
<rect x="842.1" y="669.0" width="1.0" height="58.5" fill="#a9abaa" />
<rect x="852.4" y="669.0" width="3.0" height="58.5" fill="#c5c7c6" />
<rect x="852.2" y="669.0" width="1.0" height="58.5" fill="#a9abaa" />
<rect x="854.6" y="669.0" width="1.0" height="58.5" fill="#a9abaa" />
<rect x="864.8" y="669.0" width="3.0" height="58.5" fill="#c5c7c6" />
<rect x="864.6" y="669.0" width="1.0" height="58.5" fill="#a9abaa" />
<rect x="867.0" y="669.0" width="1.0" height="58.5" fill="#a9abaa" />
<rect x="877.0" y="669.0" width="3.0" height="58.5" fill="#c5c7c6" />
<rect x="876.8" y="669.0" width="1.0" height="58.5" fill="#a9abaa" />
<rect x="879.2" y="669.0" width="1.0" height="58.5" fill="#a9abaa" />
<rect x="889.5" y="669.0" width="3.0" height="58.5" fill="#c5c7c6" />
<rect x="889.3" y="669.0" width="1.0" height="58.5" fill="#a9abaa" />
<rect x="891.7" y="669.0" width="1.0" height="58.5" fill="#a9abaa" />
<rect x="901.4" y="669.0" width="3.0" height="58.5" fill="#c5c7c6" />
<rect x="901.2" y="669.0" width="1.0" height="58.5" fill="#a9abaa" />
<rect x="903.6" y="669.0" width="1.0" height="58.5" fill="#a9abaa" />
<rect x="913.0" y="669.0" width="3.0" height="58.5" fill="#c5c7c6" />
<rect x="912.8" y="669.0" width="1.0" height="58.5" fill="#a9abaa" />
<rect x="915.2" y="669.0" width="1.0" height="58.5" fill="#a9abaa" />
</g>
<g id="pipe4">
<path d="M949,694.2 L964.6,694.2 A14,14 0 0 1 978.6,708.2 L978.6,748" fill="none" stroke="#a5a7a6" stroke-width="13.2"/><path d="M949,694.2 L964.6,694.2 A14,14 0 0 1 978.6,708.2 L978.6,748" fill="none" stroke="#adafae" stroke-width="9.7"/><path d="M949,694.2 L964.6,694.2 A14,14 0 0 1 978.6,708.2 L978.6,748" fill="none" stroke="#b6b8b7" stroke-width="5.199999999999999"/>
<rect x="970.9" y="747.3" width="15.1" height="3.9" fill="#9a9c9b" />
<rect x="972.8" y="751.0" width="10.9" height="8.0" fill="#8a8c8b" />
<path transform="translate(977.7 741.5)" d="M0,0 Q-2.2,-11 -4.9,-22.5 L-1.5,-16.5 L-0.45,-38.5 L0.45,-38.5 L1.5,-16.5 L4.9,-22.5 Q2.2,-11 0,0 Z" fill="#e2061f"/>
</g>
<g id="fan">
<rect x="957.2" y="784.7" width="72.5" height="11.4" fill="#828483" />
<rect x="954" y="757.7" width="32.8" height="26.5" rx="4" fill="url(#gFan)"/>
<rect x="962.2" y="758.0" width="0.8" height="26.0" fill="#9a9a9a" opacity="0.7"/>
<rect x="986.8" y="766.0" width="7.0" height="8.6" fill="#8a8c8b" />
<rect x="991.5" y="762.0" width="5.5" height="15.7" fill="#9fa1a0" />
<rect x="997.0" y="765.0" width="10.5" height="10.0" fill="#8e908f" />
<polygon points="1007,765 1012,759 1012,781 1007,775" fill="#8e908f"/>
<rect x="1011.8" y="748.8" width="14.0" height="36.2" fill="#8b8d8c" />
<rect x="1015.7" y="743.5" width="7.0" height="5.5" fill="#8b8d8c" />
<rect x="1012" y="741" width="14" height="3.2" rx="1" fill="#9a9c9b"/>
<rect x="1025.8" y="753.5" width="5.7" height="8.0" fill="#8b8d8c" />
<rect x="1031.3" y="750.4" width="3.1" height="14.8" fill="#a8aaa9" />
</g>
<g id="pipe5">
<path d="M1034.4,758.2 H1069" fill="none" stroke="#a5a7a6" stroke-width="12.4"/><path d="M1034.4,758.2 H1069" fill="none" stroke="#adafae" stroke-width="8.9"/><path d="M1034.4,758.2 H1069" fill="none" stroke="#b6b8b7" stroke-width="4.4"/>
<path transform="translate(1067.5 757.7)" d="M0,0 Q-9,-2 -17.5,-4.7 L-12.5,-1.5 L-30,-0.45 L-30,0.45 L-12.5,1.5 L-17.5,4.7 Q-9,2 0,0 Z" fill="#e2061f"/>
</g>
<g id="scrubber">
<path d="M1066.6,581.5 C1066.6,571.5 1079,569 1092.6,569 C1106,569 1118.6,571.5 1118.6,581.5 Z" fill="url(#gTower2)"/>
<rect x="1066.5" y="580.5" width="52.2" height="211.5" fill="url(#gTower2)" />
<rect x="1063.5" y="579.2" width="4" height="3.9" rx="1.5" fill="#a3a5a4"/>
<rect x="1117.7" y="579.2" width="5" height="3.9" rx="1.5" fill="#b1b3b2"/>
<rect x="1066.5" y="579.8" width="52.2" height="1.4" fill="#000" opacity="0.09"/>
<rect x="1066.5" y="581.2" width="52.2" height="1.6" fill="#fff" opacity="0.10"/>
<rect x="1063.5" y="669.7" width="4" height="3.9" rx="1.5" fill="#a3a5a4"/>
<rect x="1117.7" y="669.7" width="5" height="3.9" rx="1.5" fill="#b1b3b2"/>
<rect x="1066.5" y="670.3" width="52.2" height="1.4" fill="#000" opacity="0.09"/>
<rect x="1066.5" y="671.7" width="52.2" height="1.6" fill="#fff" opacity="0.10"/>
<rect x="1059.4" y="791.3" width="67.4" height="5" rx="2" fill="#a9abaa"/>
</g>
<g id="pipe6">
<path d="M1118.5,599.5 L1148.7,599.5 A14,14 0 0 1 1162.7,613.5 L1162.7,759.5 A15.5,15.5 0 0 0 1178.2,775.0 L1220,775" fill="none" stroke="#a5a7a6" stroke-width="13"/><path d="M1118.5,599.5 L1148.7,599.5 A14,14 0 0 1 1162.7,613.5 L1162.7,759.5 A15.5,15.5 0 0 0 1178.2,775.0 L1220,775" fill="none" stroke="#adafae" stroke-width="9.5"/><path d="M1118.5,599.5 L1148.7,599.5 A14,14 0 0 1 1162.7,613.5 L1162.7,759.5 A15.5,15.5 0 0 0 1178.2,775.0 L1220,775" fill="none" stroke="#b6b8b7" stroke-width="5"/>
<path transform="translate(1154 598.7)" d="M0,0 Q-9,-2 -17.5,-4.7 L-12.5,-1.5 L-30,-0.45 L-30,0.45 L-12.5,1.5 L-17.5,4.7 Q-9,2 0,0 Z" fill="#e2061f"/>
<path transform="translate(1162.7 658.6)" d="M0,0 Q-2.2,-11 -4.9,-22.5 L-1.5,-16.5 L-0.45,-38.5 L0.45,-38.5 L1.5,-16.5 L4.9,-22.5 Q2.2,-11 0,0 Z" fill="#e2061f"/>
<path transform="translate(1162.7 733)" d="M0,0 Q-2.2,-11 -4.9,-22.5 L-1.5,-16.5 L-0.45,-38.5 L0.45,-38.5 L1.5,-16.5 L4.9,-22.5 Q2.2,-11 0,0 Z" fill="#e2061f"/>
<path transform="translate(1211.7 774)" d="M0,0 Q-9,-2 -17.5,-4.7 L-12.5,-1.5 L-30,-0.45 L-30,0.45 L-12.5,1.5 L-17.5,4.7 Q-9,2 0,0 Z" fill="#e2061f"/>
</g>
<g id="chimney">
<polygon points="1219.6,527.3 1247.7,527.3 1248.5,790 1218.5,790" fill="url(#gChim)"/>
<rect x="1218.3" y="540.4" width="30.0" height="3.8" fill="url(#gRed)" />
<rect x="1218.3" y="552.9" width="30.0" height="4.3" fill="url(#gRed)" />
<rect x="1218.3" y="569.8" width="30.0" height="4.6" fill="url(#gRed)" />
<rect x="1218.3" y="757.0" width="30.0" height="4.3" fill="url(#gRed)" />
<rect x="1218.5" y="765.0" width="30.0" height="25.3" fill="url(#gRed)" />
<polygon points="1213.2,790.3 1254.4,790.3 1255.4,795.8 1212.2,795.8" fill="#c6c8c7"/>
</g>
<g id="smoke" filter="url(#fSoft)">
<ellipse cx="1265.3" cy="456.7" rx="19" ry="15.5" fill="#d1d2d4"/>
<ellipse cx="1256" cy="452" rx="17" ry="14" fill="#d1d2d4"/>
<ellipse cx="1275" cy="460" rx="17" ry="15" fill="#d1d2d4"/>
<ellipse cx="1250" cy="462" rx="14" ry="11" fill="#d1d2d4"/>
<ellipse cx="1246.3" cy="443.8" rx="7.6" ry="9.4" fill="url(#gPuff)"/>
<ellipse cx="1257.9" cy="439.5" rx="4.5" ry="6.3" fill="url(#gPuff)"/>
<ellipse cx="1290.5" cy="453" rx="10" ry="13.1" fill="url(#gPuff)"/>
<ellipse cx="1239.5" cy="462.2" rx="8.5" ry="11.2" fill="url(#gPuff)"/>
<ellipse cx="1287.4" cy="470.8" rx="5.1" ry="6.3" fill="url(#gPuff)"/>
<ellipse cx="1273.3" cy="439.5" rx="10.6" ry="11.9" fill="url(#gPuff)"/>
<ellipse cx="1256.1" cy="471.4" rx="9.4" ry="10.6" fill="url(#gPuff)"/>
<ellipse cx="1274.5" cy="475.7" rx="8.8" ry="10.6" fill="url(#gPuff)"/>
<ellipse cx="1266" cy="457" rx="13" ry="9" fill="#d3d4d6" opacity="0.85"/>
<ellipse cx="1249.4" cy="487.4" rx="6.9" ry="5.9" fill="url(#gPuff2)" transform="rotate(25 1249.4 487.4)"/>
<ellipse cx="1240.8" cy="498.4" rx="5.6" ry="4.7" fill="url(#gPuff2)" transform="rotate(30 1240.8 498.4)"/>
<ellipse cx="1233.4" cy="506.8" rx="4.4" ry="3.3" fill="url(#gPuff2)" transform="rotate(35 1233.4 506.8)"/>
<ellipse cx="1228.5" cy="513.2" rx="3.5" ry="2.1" fill="url(#gPuff2)" transform="rotate(40 1228.5 513.2)"/>
</g>
</svg>
<div class="lb" style="left:15.7px;top:414.3px">进料输送</div>
<div class="lb" style="left:1123.2px;top:415.3px">冷却出料</div>
<div class="lb" style="left:300.1px;top:827.8px">燃烧室</div>
<div class="lb" style="left:422.2px;top:827.8px">换热器</div>
<div class="lb" style="left:507.5px;top:827.8px">急冷塔</div>
<div class="lb" style="left:636.9px;top:827.8px">干式反应塔</div>
<div class="lb" style="left:794.9px;top:827.8px">脉冲布袋除尘</div>
<div class="lb" style="left:959.1px;top:827.8px">引风机</div>
<div class="lb" style="left:1046.9px;top:827.8px">碱液喷淋</div>
<div class="lb" style="left:1212.9px;top:827.8px">烟囱</div>
</div>
</body>
</html>
